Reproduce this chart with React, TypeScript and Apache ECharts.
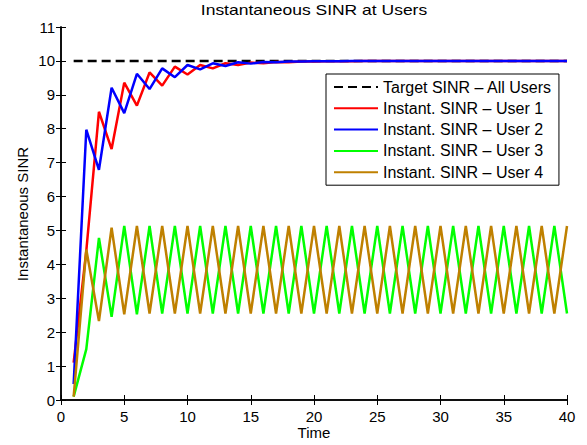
import React, { useEffect, useRef } from "react";
import * as echarts from "echarts";

const time: number[] = Array.from({ length: 40 }, (_, i) => i + 1);

const target: number[] = [
  10, 10, 10, 10, 10, 10, 10, 10, 10, 10, 10, 10, 10, 10, 10, 10, 10, 10, 10, 10,
  10, 10, 10, 10, 10, 10, 10, 10, 10, 10, 10, 10, 10, 10, 10, 10, 10, 10, 10, 10,
];

const user1: number[] = [
  1.1, 4.4, 8.5, 7.4, 9.36, 8.68, 9.66, 9.27, 9.83, 9.6,
  9.88, 9.78, 9.93, 9.88, 9.95, 9.93, 9.97, 9.96, 9.98, 9.98,
  9.99, 9.99, 9.99, 10, 10, 10, 10, 10, 10, 10,
  10, 10, 10, 10, 10, 10, 10, 10, 10, 10,
];

const user2: number[] = [
  0.47, 7.97, 6.79, 9.21, 8.46, 9.62, 9.17, 9.78, 9.52, 9.88,
  9.75, 9.93, 9.85, 9.96, 9.92, 9.97, 9.96, 9.98, 9.98, 9.99,
  9.99, 9.99, 10, 10, 10, 10, 10, 10, 10, 10,
  10, 10, 10, 10, 10, 10, 10, 10, 10, 10,
];

const user3: number[] = [
  0.1, 1.5, 4.78, 2.45, 5.13, 2.53, 5.13, 2.55, 5.13, 2.55,
  5.13, 2.55, 5.13, 2.55, 5.13, 2.55, 5.13, 2.55, 5.13, 2.55,
  5.13, 2.55, 5.13, 2.55, 5.13, 2.55, 5.13, 2.55, 5.13, 2.55,
  5.13, 2.55, 5.13, 2.55, 5.13, 2.55, 5.13, 2.55, 5.13, 2.55,
];

const user4: number[] = [
  0.1, 4.44, 2.33, 5.08, 2.53, 5.13, 2.55, 5.13, 2.55, 5.13,
  2.55, 5.13, 2.55, 5.13, 2.55, 5.13, 2.55, 5.13, 2.55, 5.13,
  2.55, 5.13, 2.55, 5.13, 2.55, 5.13, 2.55, 5.13, 2.55, 5.13,
  2.55, 5.13, 2.55, 5.13, 2.55, 5.13, 2.55, 5.13, 2.55, 5.13,
];

const seriesNames: string[] = [
  "Target SINR \u2013 All Users",
  "Instant. SINR \u2013 User 1",
  "Instant. SINR \u2013 User 2",
  "Instant. SINR \u2013 User 3",
  "Instant. SINR \u2013 User 4",
];

const titleText = "Instantaneous SINR at Users";
const xName = "Time";
const yName = "Instantaneous SINR";

const FONT = "'Liberation Sans', Arial, Helvetica, sans-serif";

export default function App() {
  const ref = useRef<HTMLDivElement>(null);
  useEffect(() => {
    if (!ref.current) return;
    const chart = echarts.init(ref.current, null, { renderer: "svg" });
    const pairs = (arr: number[]) => time.map((t, i) => [t, arr[i]]);
    const colors = ["#000000", "#ff0000", "#0000ff", "#00ff00", "#bf8000"];
    const datas = [target, user1, user2, user3, user4];
    const axisLine = { show: true, lineStyle: { color: "#000", width: 1.5 } };
    const tick = { show: true, inside: true, length: 5, lineStyle: { color: "#000", width: 1 } };
    const textEl = (text: string, x: number, y: number, size: number, rot: number, stretch: number) => ({
      type: "text",
      x,
      y,
      rotation: rot,
      scaleX: stretch,
      scaleY: 1,
      silent: true,
      style: {
        text,
        fontFamily: FONT,
        fontSize: size,
        fill: "#000",
        align: "center",
        verticalAlign: "middle",
        textAlign: "center",
        textVerticalAlign: "middle",
      },
    });
    chart.setOption({
      animation: false,
      backgroundColor: "#ffffff",
      textStyle: { fontFamily: FONT },
      grid: { left: 61, right: 20, top: 27, bottom: 45, containLabel: false },
      legend: {
        orient: "vertical",
        left: 326,
        top: 74,
        data: seriesNames,
        itemWidth: 44,
        itemHeight: 14,
        itemGap: 5.3,
        padding: [5, 7, 5, 7],
        borderColor: "#000",
        borderWidth: 1,
        backgroundColor: "#fff",
        itemStyle: { opacity: 0 },
        textStyle: { fontFamily: FONT, fontSize: 16, color: "#000" },
      },
      graphic: [
        textEl(titleText, 314, 10, 14, 0, 1.25),
        textEl(xName, 314, 432, 15, 0, 1),
        textEl(yName, 22, 214, 15, Math.PI / 2, 1),
      ],
      xAxis: [
        {
          type: "value",
          min: 0,
          max: 40,
          interval: 5,
          position: "bottom",
          axisLine,
          axisTick: tick,
          axisLabel: { fontFamily: FONT, fontSize: 15, color: "#000", margin: 9 },
          splitLine: { show: false },
        },
        {
          type: "value",
          min: 0,
          max: 40,
          interval: 5,
          position: "top",
          axisLine,
          axisTick: tick,
          axisLabel: { show: false },
          splitLine: { show: false },
        },
      ],
      yAxis: [
        {
          type: "value",
          min: 0,
          max: 11,
          interval: 1,
          position: "left",
          axisLine,
          axisTick: tick,
          axisLabel: { fontFamily: FONT, fontSize: 15, color: "#000", margin: 6 },
          splitLine: { show: false },
        },
        {
          type: "value",
          min: 0,
          max: 11,
          interval: 1,
          position: "right",
          axisLine,
          axisTick: tick,
          axisLabel: { show: false },
          splitLine: { show: false },
        },
      ],
      series: seriesNames.map((name, i) => ({
        name,
        type: "line",
        xAxisIndex: 0,
        yAxisIndex: 0,
        data: pairs(datas[i]),
        showSymbol: false,
        symbol: "none",
        color: colors[i],
        lineStyle: {
          color: colors[i],
          width: 2.5,
          type: i === 0 ? [9, 5] : "solid",
        },
        z: 2 + i,
      })),
    });
    return () => chart.dispose();
  }, []);
  return <div ref={ref} style={{ width: 587, height: 445, position: "absolute", left: 0, top: 0 }} />;
}
